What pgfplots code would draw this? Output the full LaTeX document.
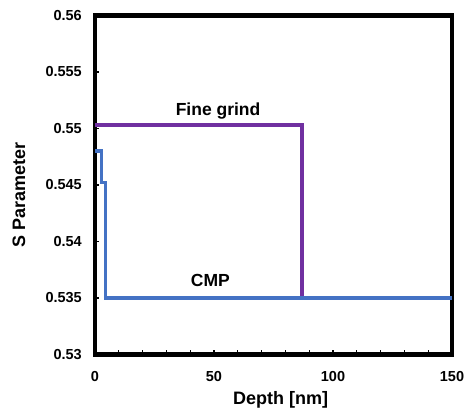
\documentclass[border=0pt]{standalone}
\usepackage{pgfplots}
\pgfplotsset{compat=1.18}
\usepackage{fontspec}
\setmainfont{Liberation Sans}
\definecolor{finegrind}{RGB}{112,48,160}
\definecolor{cmp}{RGB}{68,114,196}
\begin{document}
\begin{tikzpicture}
\useasboundingbox (-95pt,-54.5pt) rectangle (371pt,354.5pt);
\begin{axis}[
    width=357pt, height=339pt,
    scale only axis,
    xmin=0, xmax=150,
    ymin=0.53, ymax=0.56,
    axis line style={line width=4.2pt},
    xtick={0,50,100,150},
    minor xtick={10,20,30,40,60,70,80,90,110,120,130,140},
    ytick={0.53,0.535,0.54,0.545,0.55,0.555,0.56},
    tick style={black, line width=1.3pt},
    major tick length=4.5pt, minor tick length=4.5pt,
    tick align=inside,
    xtick pos=bottom, ytick pos=left,
    yticklabel style={/pgf/number format/fixed, /pgf/number format/precision=3,
        anchor=east, inner sep=0pt, xshift=-13pt},
    xticklabel style={anchor=base, yshift=-27pt},
    /pgf/number format/assume math mode=true,
    ticklabel style={font=\fontsize{14.5}{16}\selectfont\bfseries},
    xlabel={Depth [nm]},
    ylabel={S Parameter},
    label style={font=\fontsize{18}{20}\selectfont\bfseries},
    xlabel style={at={(axis description cs:0.52,-0.147)}, anchor=base},
    ylabel style={at={(axis description cs:-0.196,0.4705)}, anchor=base},
    clip=false,
]
\addplot[finegrind, line width=3.3pt] coordinates {
    (0,0.5503) (87,0.5503) (87,0.535) (150,0.535)
};
\addplot[cmp, line width=3.3pt] coordinates {
    (0,0.548) (2.8,0.548) (2.8,0.5452) (4.5,0.5452) (4.5,0.535) (150,0.535)
};
\node[font=\fontsize{17.5}{19}\selectfont\bfseries, anchor=base] at (axis cs:51.7,0.55118) {Fine grind};
\node[font=\fontsize{17.5}{19}\selectfont\bfseries, anchor=base] at (axis cs:48.5,0.53598) {CMP};
\end{axis}
\end{tikzpicture}
\end{document}
